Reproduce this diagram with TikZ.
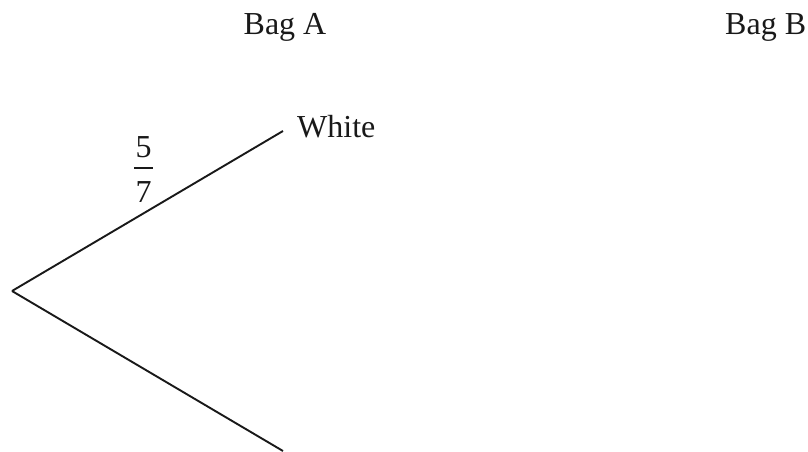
\documentclass[tikz,border=0pt]{standalone}
\usepackage{fontspec}
\setmainfont{Liberation Serif}
\begin{document}
\begin{tikzpicture}[x=1pt,y=-1pt,
  lbl/.style={inner sep=0pt,text=black!90,font=\fontsize{32}{38}\selectfont},
  branch/.style={line width=1.9pt,draw=black!90}]
\useasboundingbox (0,0) rectangle (808,452);
\node[lbl,anchor=base] (bagA) at (285,35) {Bag A};
\node[lbl,anchor=base west] (bagB) at (725,35) {Bag B};
\coordinate (root) at (12,291);
\coordinate (up) at (283,131);
\coordinate (down) at (283,451);
\node[lbl,anchor=base west] (white) at (297,137) {White};
\draw[branch] (root) -- (up);
\draw[branch] (root) -- (down);
\node[lbl,anchor=base] (num) at (143.5,157) {5};
\node[lbl,anchor=base] (den) at (143.5,202) {7};
\coordinate (barL) at (134,168);
\coordinate (barR) at (153,168);
\draw[line width=1.5pt,draw=black!90] (barL) -- (barR);
\end{tikzpicture}
\end{document}
